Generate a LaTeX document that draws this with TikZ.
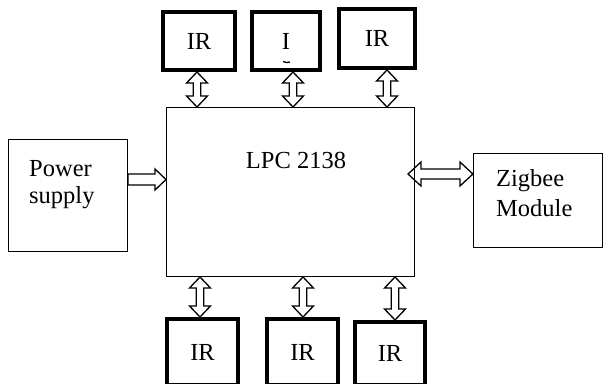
\documentclass[tikz,border=0pt]{standalone}
\usepackage{fontspec}
\setmainfont{Liberation Serif}
\newfontfamily\tnrfont{Liberation Serif}
\usetikzlibrary{calc}
\tikzset{
  irbox/.style={draw, line width=4pt, inner sep=0pt, font=\tnrfont\fontsize{24.5}{27}\selectfont},
  thinbox/.style={draw, line width=1.1pt, inner sep=0pt},
  txt/.style={inner sep=0pt, align=left, font=\tnrfont\fontsize{24.5}{27}\selectfont},
  arrsty/.style={draw, line width=1.3pt, fill=white, line join=miter},
}
\newcommand\vdarr[2]{%
  \path[arrsty] let \p1=(#1), \p2=(#2) in
  (\x1,\y1) -- (\x1+10.5pt,\y1-11pt) -- (\x1+3.8pt,\y1-11pt) -- (\x1+3.8pt,\y2+11pt)
  -- (\x1+10.5pt,\y2+11pt) -- (\x1,\y2) -- (\x1-10.5pt,\y2+11pt) -- (\x1-3.8pt,\y2+11pt)
  -- (\x1-3.8pt,\y1-11pt) -- (\x1-10.5pt,\y1-11pt) -- cycle;}
\newcommand\hdarr[2]{%
  \path[arrsty,fill=none] let \p1=(#1), \p2=(#2) in
  (\x1,\y1) -- (\x1+13pt,\y1+12pt) -- (\x1+13pt,\y1+5pt) -- (\x2-13pt,\y1+5pt)
  -- (\x2-13pt,\y1+12pt) -- (\x2,\y1) -- (\x2-13pt,\y1-12pt) -- (\x2-13pt,\y1-5pt)
  -- (\x1+13pt,\y1-5pt) -- (\x1+13pt,\y1-12pt) -- cycle;}
\newcommand\sharr[2]{%
  \path[arrsty] let \p1=(#1), \p2=(#2) in
  (\x1,\y1+5.5pt) -- (\x2-11pt,\y1+5.5pt) -- (\x2-11pt,\y1+10.5pt) -- (\x2,\y1)
  -- (\x2-11pt,\y1-10.5pt) -- (\x2-11pt,\y1-5.5pt) -- (\x1,\y1-5.5pt) -- cycle;}
\begin{document}
\begin{tikzpicture}[x=1pt,y=-1pt]
\clip (0,0) rectangle (605,383);
\fill[white] (0,0) rectangle (605,383);
% boxes
\node[thinbox, line width=1pt, minimum width=248pt, minimum height=169pt] (main) at (290.5,192) {};
\node[txt] (lpc) at (296,160) {LPC 2138};
\node[thinbox, minimum width=119pt, minimum height=112pt] (power) at (68,195.5) {};
\node[txt, anchor=west] (ptxt) at (29,185) {Power\\supply};
\node[thinbox, minimum width=129pt, minimum height=94pt] (zig) at (538,200.5) {};
\node[txt, anchor=west, font=\tnrfont\fontsize{24.5}{30}\selectfont] (ztxt) at (496,193.5) {Zigbee\\Module};
\node[irbox, minimum width=72pt, minimum height=58pt] (t1) at (199,41) {IR};
\node[irbox, minimum width=68pt, minimum height=58pt] (t2) at (286,41) {I};
\node[irbox, minimum width=76pt, minimum height=59pt] (t3) at (377,38.5) {IR};
\node[irbox, minimum width=71pt, minimum height=66pt] (b1) at (202.5,352) {IR};
\node[irbox, minimum width=71pt, minimum height=66pt] (b2) at (302.5,352) {IR};
\node[irbox, minimum width=70pt, minimum height=63pt] (b3) at (390,353.5) {IR};
\draw[line width=1.3pt] (283,61.5) .. controls (285,62.8) and (288,62.8) .. (290,62);
% arrow positions
\coordinate (xt1) at (197,0);
\coordinate (xt2) at (293,0);
\coordinate (xt3) at (387,0);
\coordinate (xb1) at (200,0);
\coordinate (xb2) at (303,0);
\coordinate (xb3) at (395,0);
\coordinate (py) at (0,179.5);
\coordinate (zy) at (0,174);
\vdarr{xt1 |- t1.south}{xt1 |- main.north}
\vdarr{xt2 |- t2.south}{xt2 |- main.north}
\vdarr{xt3 |- t3.south}{xt3 |- main.north}
\vdarr{xb1 |- main.south}{xb1 |- b1.north}
\vdarr{xb2 |- main.south}{xb2 |- b2.north}
\vdarr{xb3 |- main.south}{xb3 |- b3.north}
\sharr{power.east |- py}{main.west |- py}
\coordinate (zl) at ($(main.east |- zy)+(-7,0)$);
\hdarr{zl}{zig.west |- zy}
\end{tikzpicture}
\end{document}
